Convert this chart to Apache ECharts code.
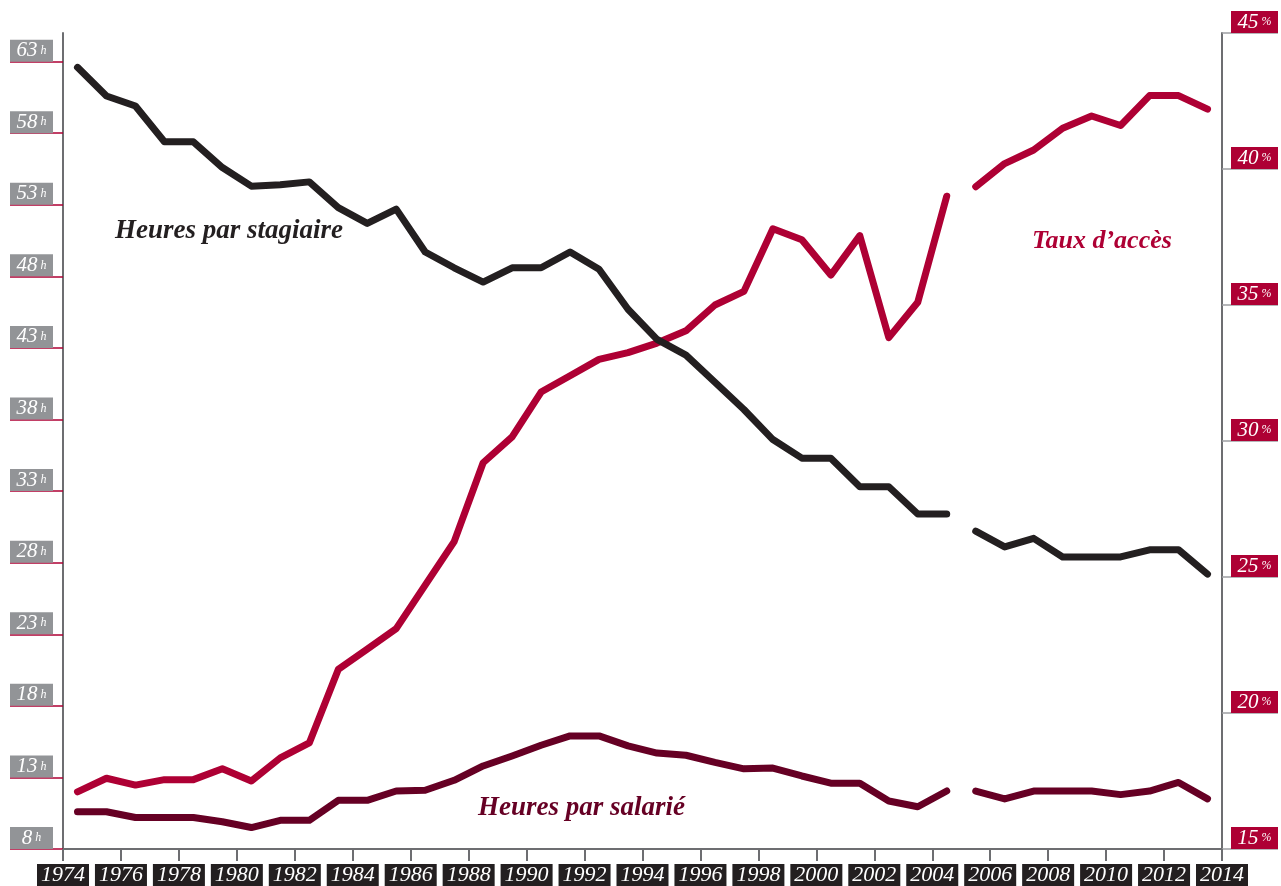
<!DOCTYPE html>
<html>
<head>
<meta charset="utf-8">
<title>Formation continue</title>
<script src="https://cdn.jsdelivr.net/npm/echarts@6/dist/echarts.min.js"></script>
<style>
  html, body { margin: 0; padding: 0; background: #fff; }
  #chart { width: 1281px; height: 886px; }
</style>
</head>
<body>
<div id="chart"></div>
<script>
// années 1974 -> 2013 (rupture de série entre 2004 et 2005)
const years = [1974, 1975, 1976, 1977, 1978, 1979, 1980, 1981, 1982, 1983,
  1984, 1985, 1986, 1987, 1988, 1989, 1990, 1991, 1992, 1993,
  1994, 1995, 1996, 1997, 1998, 1999, 2000, 2001, 2002, 2003,
  2004, 2005, 2006, 2007, 2008, 2009, 2010, 2011, 2012, 2013];
const breakYear = 2005;

const heuresStagiaire = [62.6, 60.6, 59.9, 57.4, 57.4, 55.6, 54.3, 54.4, 54.6, 52.8,
  51.7, 52.7, 49.7, 48.6, 47.6, 48.6, 48.6, 49.7, 48.5, 45.7,
  43.6, 42.5, 40.6, 38.7, 36.6, 35.3, 35.3, 33.3, 33.3, 31.4,
  31.4, 30.2, 29.1, 29.7, 28.4, 28.4, 28.4, 28.9, 28.9, 27.2];

const tauxAcces = [17.1, 17.6, 17.35, 17.55, 17.55, 17.95, 17.5, 18.35, 18.9, 21.6,
  22.35, 23.1, 24.7, 26.3, 29.2, 30.15, 31.8, 32.4, 33.0, 33.25,
  33.6, 34.05, 35.0, 35.5, 37.8, 37.4, 36.1, 37.55, 33.8, 35.1,
  39.0, 39.35, 40.2, 40.7, 41.5, 41.95, 41.6, 42.7, 42.7, 42.2];

const heuresSalarie = [10.6, 10.6, 10.2, 10.2, 10.2, 9.9, 9.5, 10.0, 10.0, 11.4,
  11.4, 12.05, 12.1, 12.8, 13.8, 14.5, 15.25, 15.9, 15.9, 15.2,
  14.7, 14.55, 14.05, 13.6, 13.65, 13.1, 12.6, 12.6, 11.35, 10.95,
  12.05, 12.05, 11.5, 12.05, 12.05, 12.05, 11.8, 12.05, 12.65, 11.5];

const hourTicks = [8, 13, 18, 23, 28, 33, 38, 43, 48, 53, 58, 63];
const pctTicks = [15, 20, 25, 30, 35, 40, 45];

const BLACK = '#231f20';
const CRIMSON = '#ae0034';
const PURPLE = '#660024';
const GREY_BOX = '#929497';
const AXIS = '#6d6e71';
const SERIF = '"Liberation Serif", "DejaVu Serif", serif';

// points placés au milieu de l'année, coupure avant breakYear
function toSeries(values) {
  const out = [];
  years.forEach((y, i) => {
    if (y === breakYear) out.push([breakYear, null]);
    out.push([y + 0.5, values[i]]);
  });
  return out;
}

function lineSeries(name, values, color, yAxisIndex) {
  return {
    name,
    type: 'line',
    yAxisIndex,
    data: toSeries(values),
    showSymbol: false,
    connectNulls: false,
    silent: true,
    lineStyle: { color, width: 7, cap: 'round', join: 'round' },
    z: 3
  };
}

function boxRich(color) {
  return {
    n: { color, fontFamily: SERIF, fontStyle: 'italic', fontSize: 21, lineHeight: 22, align: 'center' },
    u: { color, fontFamily: SERIF, fontStyle: 'italic', fontSize: 12, lineHeight: 22, align: 'center' },
    g: { height: 3, width: 1, backgroundColor: 'transparent' }
  };
}

const chart = echarts.init(document.getElementById('chart'), null, { renderer: 'canvas' });

chart.setOption({
  animation: false,
  backgroundColor: '#fff',
  grid: { left: 63, right: 53, top: 33, bottom: 36 },
  xAxis: {
    type: 'value',
    min: 1974,
    max: 2014,
    interval: 2,
    splitLine: { show: false },
    axisLine: { lineStyle: { color: AXIS, width: 2 } },
    axisTick: { length: 12, lineStyle: { color: AXIS, width: 2 } },
    axisLabel: {
      margin: 15,
      color: '#fff',
      fontFamily: SERIF,
      fontStyle: 'italic',
      fontSize: 22,
      lineHeight: 22,
      backgroundColor: BLACK,
      padding: [0, 4, 0, 4],
      formatter: v => String(v)
    }
  },
  yAxis: [
    {
      type: 'value',
      position: 'left',
      min: 8,
      max: 65,
      splitLine: { show: false },
      axisLine: { show: true, lineStyle: { color: AXIS, width: 2 } },
      axisTick: {
        show: true,
        length: 53,
        customValues: hourTicks,
        lineStyle: { color: CRIMSON, width: 1.5 }
      },
      axisLabel: {
        customValues: hourTicks,
        margin: 10,
        verticalAlign: 'bottom',
        backgroundColor: GREY_BOX,
        width: 33,
        padding: [0, 5, 0, 5],
        formatter: v => '{n|' + v + '}{u| h}',
        rich: boxRich('#fff')
      }
    },
    {
      type: 'value',
      position: 'right',
      min: 15,
      max: 45,
      interval: 5,
      splitLine: { show: false },
      axisLine: { show: true, lineStyle: { color: AXIS, width: 2 } },
      axisTick: {
        show: true,
        length: 56,
        customValues: pctTicks,
        lineStyle: { color: '#9d9fa2', width: 1.5 }
      },
      axisLabel: {
        customValues: pctTicks,
        margin: 9,
        verticalAlign: 'bottom',
        backgroundColor: CRIMSON,
        width: 37,
        padding: [0, 5, 0, 5],
        formatter: v => '{n|' + v + '}{u| %}',
        rich: boxRich('#fff')
      }
    }
  ],
  graphic: [
    {
      type: 'text', left: 115, top: 218,
      style: { text: 'Heures par stagiaire', fill: BLACK, font: 'italic bold 27px ' + SERIF }
    },
    {
      type: 'text', left: 1032, top: 228,
      style: { text: 'Taux d’accès', fill: CRIMSON, font: 'italic bold 26px ' + SERIF }
    },
    {
      type: 'text', left: 478, top: 795,
      style: { text: 'Heures par salarié', fill: PURPLE, font: 'italic bold 27px ' + SERIF }
    }
  ],
  series: [
    lineSeries('Heures par salarié', heuresSalarie, PURPLE, 0),
    lineSeries('Taux d’accès', tauxAcces, CRIMSON, 1),
    lineSeries('Heures par stagiaire', heuresStagiaire, BLACK, 0)
  ]
});
</script>
</body>
</html>
